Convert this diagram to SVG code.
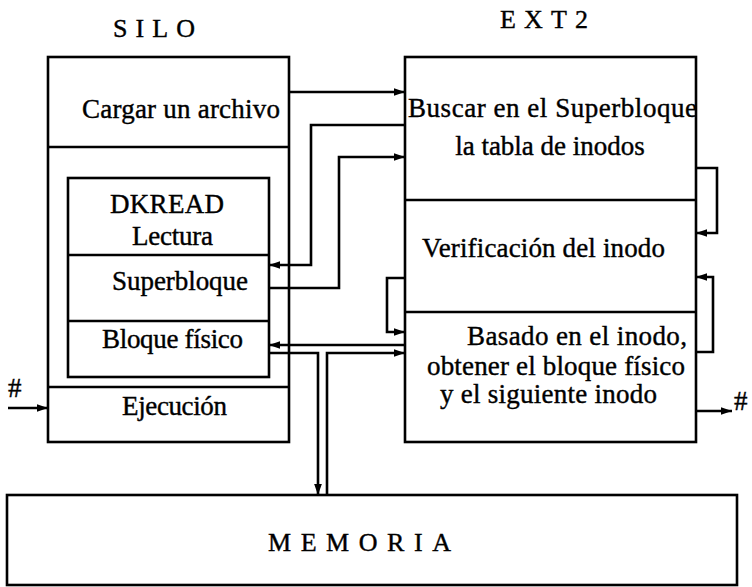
<svg xmlns="http://www.w3.org/2000/svg" width="752" height="587" viewBox="0 0 752 587">
<defs>
<style>
.box{fill:none;stroke:#000;stroke-width:2.6}
.ln{fill:none;stroke:#000;stroke-width:2.6}
.t{font-family:"Liberation Serif","Times New Roman",serif;font-size:27px;fill:#000;stroke:#000;stroke-width:0.4}
.title{font-family:"Liberation Serif","Times New Roman",serif;font-size:26px;fill:#000;stroke:#000;stroke-width:0.4}
</style>
<marker id="ah" viewBox="0 0 10 7" refX="10" refY="3.5" markerWidth="11" markerHeight="8" markerUnits="userSpaceOnUse" orient="auto">
<path d="M0,0 L10,3.5 L0,7 z" fill="#000"/>
</marker>
</defs>
<rect width="752" height="587" fill="#fff"/>
<text class="title" x="113" y="37" textLength="82" lengthAdjust="spacing">SILO</text>
<text class="title" x="500" y="28" textLength="88" lengthAdjust="spacing">EXT2</text>

<g id="silo">
<rect class="box" x="48" y="57" width="241" height="385"/>
<line class="box" x1="48" y1="147" x2="289" y2="147"/>
<line class="box" x1="48" y1="387" x2="289" y2="387"/>
<text class="t" x="82" y="118" textLength="198">Cargar un archivo</text>
<text class="t" x="122" y="415" textLength="105">Ejecución</text>
</g>
<g id="dkread">
<rect class="box" x="68" y="178" width="201" height="199"/>
<line class="box" x1="68" y1="255" x2="269" y2="255"/>
<line class="box" x1="68" y1="321" x2="269" y2="321"/>
<text class="t" x="110" y="213" textLength="114">DKREAD</text>
<text class="t" x="132" y="245" textLength="81">Lectura</text>
<text class="t" x="112" y="290" textLength="136">Superbloque</text>
<text class="t" x="102" y="348" textLength="141">Bloque físico</text>
</g>
<g id="ext2">
<rect class="box" x="405" y="57" width="291" height="385"/>
<line class="box" x1="405" y1="200" x2="696" y2="200"/>
<line class="box" x1="405" y1="312" x2="696" y2="312"/>
<text class="t" x="408" y="117" textLength="289">Buscar en el Superbloque</text>
<text class="t" x="550" y="155" text-anchor="middle">la tabla de inodos</text>
<text class="t" x="422" y="257" textLength="243">Verificación del inodo</text>
<text class="t" x="467" y="345" textLength="220">Basado en el inodo,</text>
<text class="t" x="427" y="375" textLength="258">obtener el bloque físico</text>
<text class="t" x="440" y="403" textLength="217">y el siguiente inodo</text>
</g>
<g id="memoria">
<rect class="box" x="7" y="495" width="730" height="90"/>
<text class="title" x="268" y="551" textLength="183" lengthAdjust="spacing">MEMORIA</text>
</g>
<g id="connectors">
<path class="ln" d="M289,92 H405" marker-end="url(#ah)"/>
<path class="ln" d="M405,125 H311 V265 H269" marker-end="url(#ah)"/>
<path class="ln" d="M269,288 H339 V157 H405" marker-end="url(#ah)"/>
<path class="ln" d="M405,345 H269" marker-end="url(#ah)"/>
<path class="ln" d="M269,353 H318 V495" marker-end="url(#ah)"/>
<path class="ln" d="M327,495 V353 H405" marker-end="url(#ah)"/>
<path class="ln" d="M696,168 H717 V233 H696" marker-end="url(#ah)"/>
<path class="ln" d="M696,352 H713 V277 H696" marker-end="url(#ah)"/>
<path class="ln" d="M405,278 H387 V332 H405" marker-end="url(#ah)"/>
<path class="ln" d="M696,411 H732" marker-end="url(#ah)"/>
<path class="ln" d="M8,408 H48" marker-end="url(#ah)"/>
<text class="t" x="8" y="397" font-size="28">#</text>
<text class="t" x="734" y="410" font-size="28">#</text>
</g>
</svg>
